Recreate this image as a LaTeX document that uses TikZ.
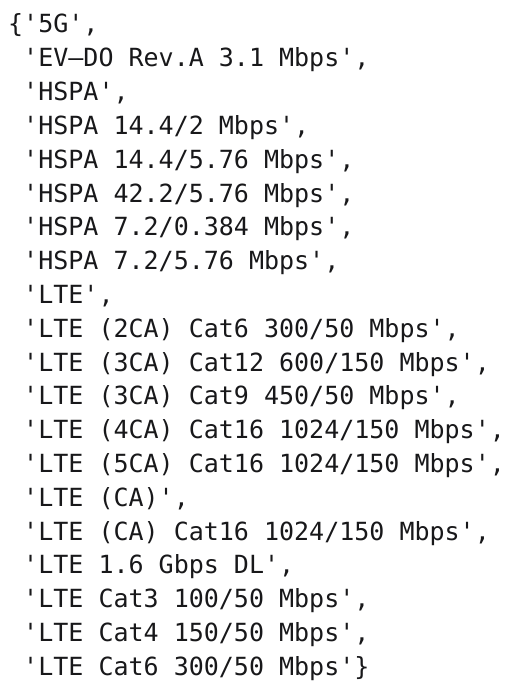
\documentclass[tikz,border=0pt]{standalone}
\usepackage{fontspec}
\setmonofont{DejaVu Sans Mono}

\tikzset{
  codeline/.style={anchor=base west, inner sep=0pt, text=codeink,
    font=\ttfamily\fontsize{25}{30}\selectfont}
}

\begin{document}
\begin{tikzpicture}
  \definecolor{codeink}{RGB}{24,24,26}
  \pgfmathsetmacro{\charW}{15.05};
  \pgfmathsetmacro{\lineH}{33.8};
  \pgfmathsetmacro{\xLeft}{8};
  \pgfmathsetmacro{\yTop}{33};

  \useasboundingbox[fill=white] (0,0) rectangle (528pt,-690pt);

  % First line carries the opening brace

  \node[codeline] (row1) at (\xLeft pt, -\yTop pt) {\{'5G',};

  % Then the rest, indented by one character

  \foreach \txt [count=\i from 2] in {
      {'EV–DO Rev.A 3.1 Mbps',},
      {'HSPA',},
      {'HSPA 14.4/2 Mbps',},
      {'HSPA 14.4/5.76 Mbps',},
      {'HSPA 42.2/5.76 Mbps',},
      {'HSPA 7.2/0.384 Mbps',},
      {'HSPA 7.2/5.76 Mbps',},
      {'LTE',},
      {'LTE (2CA) Cat6 300/50 Mbps',},
      {'LTE (3CA) Cat12 600/150 Mbps',},
      {'LTE (3CA) Cat9 450/50 Mbps',},
      {'LTE (4CA) Cat16 1024/150 Mbps',},
      {'LTE (5CA) Cat16 1024/150 Mbps',},
      {'LTE (CA)',},
      {'LTE (CA) Cat16 1024/150 Mbps',},
      {'LTE 1.6 Gbps DL',},
      {'LTE Cat3 100/50 Mbps',},
      {'LTE Cat4 150/50 Mbps',},
      {'LTE Cat6 300/50 Mbps'\}}} {
    \pgfmathsetmacro{\xRow}{\xLeft + \charW};
    \pgfmathsetmacro{\yRow}{\yTop + (\i-1)*\lineH};
    \node[codeline] (row\i) at (\xRow pt, -\yRow pt) {\txt};
  }
\end{tikzpicture}
\end{document}
